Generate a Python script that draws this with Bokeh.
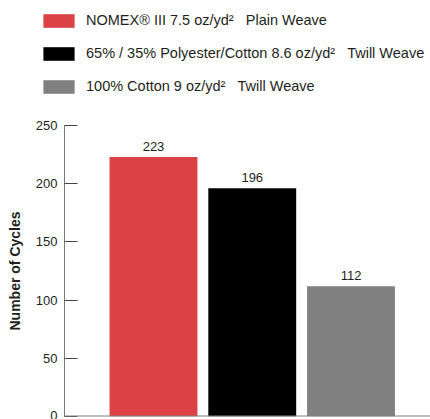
from bokeh.plotting import figure
from bokeh.models import ColumnDataSource, Legend, LegendItem, Span, Range1d, FixedTicker
from bokeh.embed import file_html
from bokeh.resources import INLINE

# data
fabrics = ["NOMEX\u00ae III 7.5 oz/yd\u00b2\u00a0\u00a0\u00a0Plain Weave",
           "65% / 35% Polyester/Cotton 8.6 oz/yd\u00b2\u00a0\u00a0\u00a0Twill Weave",
           "100% Cotton 9 oz/yd\u00b2\u00a0\u00a0\u00a0Twill Weave"]
positions = [1, 2, 3]
cycles = [223, 196, 112]
colors = ["#dc4145", "#000000", "#808080"]
y_ticks = [0, 50, 100, 150, 200, 250]

FONT = "Liberation Sans"
TXT = "#231f20"
W = 430

# ---- legend strip (same bars, drawn out of view; only the legend shows) ----
pl = figure(width=W, height=100, output_backend="svg", toolbar_location=None,
            x_axis_type=None, y_axis_type=None,
            x_range=Range1d(0, 4), y_range=Range1d(1000, 1001),
            min_border_left=0, min_border_right=0, min_border_top=0, min_border_bottom=0)
pl.outline_line_color = None
leg_r = []
for i in range(3):
    leg_r.append(pl.vbar(x=[positions[i]], top=[cycles[i]], width=0.89, bottom=0,
                         fill_color=colors[i], line_color=None))
legend = Legend(items=[LegendItem(label=fabrics[i], renderers=[leg_r[i]]) for i in range(3)],
                location=(39, 4), orientation="vertical",
                glyph_width=39, glyph_height=17, label_standoff=8,
                label_text_font=FONT, label_text_font_size="14.5px",
                label_text_color=TXT, spacing=13, padding=0, margin=0,
                border_line_color=None, background_fill_alpha=0,
                label_height=20)
pl.add_layout(legend, "center")

# ---- chart ----
p = figure(width=W, height=319, output_backend="svg", toolbar_location=None,
           x_range=Range1d(0.0987, 3.805), y_range=Range1d(0, 250),
           min_border_left=64, min_border_right=0, min_border_top=25,
           min_border_bottom=3)
p.outline_line_color = None
p.xgrid.visible = False
p.ygrid.visible = False
p.xaxis.visible = False

src = ColumnDataSource(dict(x=positions, top=cycles, lab=[str(v) for v in cycles]))
for i in range(3):
    p.vbar(x=[positions[i]], top=[cycles[i]], width=0.89, bottom=0,
           fill_color=colors[i], line_color=None)

p.text(x="x", y="top", text="lab", source=src, text_align="center",
       text_baseline="bottom", y_offset=-6, text_font_size="13px",
       text_font={"value": FONT}, text_color=TXT)

p.add_layout(Span(location=0, dimension="width", line_color="#808080", line_width=2))

ax = p.yaxis[0]
ax.ticker = FixedTicker(ticks=y_ticks)
ax.major_tick_in = 13
ax.major_tick_out = 0
ax.minor_tick_line_color = None
ax.axis_line_color = "#777777"
ax.major_tick_line_color = "#444444"
ax.major_label_text_font = FONT
ax.major_label_text_font_size = "13px"
ax.major_label_text_color = TXT
ax.major_label_standoff = 7
ax.axis_label = "Number of Cycles"
ax.axis_label_text_font = FONT
ax.axis_label_text_font_style = "bold"
ax.axis_label_text_font_size = "14px"
ax.axis_label_text_color = TXT
ax.axis_label_standoff = 10

open("out.html", "w").write(file_html([pl, p], INLINE))
